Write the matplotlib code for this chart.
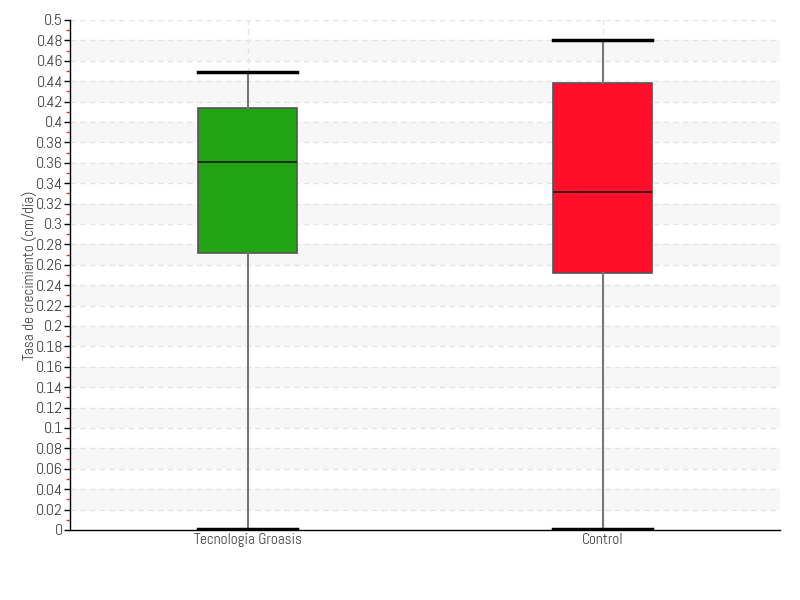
import numpy as np
import matplotlib.pyplot as plt

# box statistics
labels = ['Tecnología Groasis', 'Control']
whislo = [0.001, 0.001]
q1 = [0.2715, 0.252]
med = [0.3605, 0.331]
q3 = [0.4135, 0.438]
whishi = [0.449, 0.480]
colors = ['#22a311', '#ff0e29']

plt.rcParams['font.family'] = ['Abel', 'DejaVu Sans']

fig = plt.figure(figsize=(8, 6), dpi=100)
ax = fig.add_axes([0.0875, 0.1167, 0.8875, 0.85])

# alternating bands and dashed grid
for y in np.arange(0.02, 0.5, 0.04):
    ax.axhspan(y, y + 0.02, color='#f7f7f7', zorder=0, lw=0)
for y in np.arange(0.02, 0.501, 0.02):
    ax.axhline(y, color='#e4e4e4', ls=(0, (4, 3)), lw=1, zorder=0.5)

stats = []
for i in range(len(labels)):
    stats.append(dict(label=labels[i], whislo=whislo[i], q1=q1[i], med=med[i],
                      q3=q3[i], whishi=whishi[i], fliers=[]))

pos = [0.5, 1.5]
for p in pos:
    ax.axvline(p, color='#e4e4e4', ls=(0, (4, 3)), lw=1, zorder=0.5)

bp = ax.bxp(stats, positions=pos, widths=0.28, patch_artist=True,
            showfliers=False,
            boxprops=dict(edgecolor='#555555', lw=1.2),
            medianprops=dict(color='#1a1a1a', lw=1.2),
            whiskerprops=dict(color='#777777', lw=1.5),
            capprops=dict(color='black', lw=2.5), capwidths=0.28,
            zorder=3)
for patch, c in zip(bp['boxes'], colors):
    patch.set_facecolor(c)

ax.set_xlim(0, 2)
ax.set_ylim(0, 0.5)
yt = np.round(np.arange(0, 0.501, 0.02), 2)
ax.set_yticks(yt)
ax.set_yticklabels(['0' if v == 0 else ('%g' % v) for v in yt])
ax.set_yticks(np.arange(0.01, 0.5, 0.02), minor=True)
ax.tick_params(axis='y', which='major', length=4, width=1, color='black',
               labelsize=11.5, labelcolor='#444444', pad=1)
ax.tick_params(axis='y', which='minor', length=3, width=1, color='#ff3333')
ax.tick_params(axis='x', length=0, labelsize=11, labelcolor='#444444', pad=2)

for s in ['top', 'right']:
    ax.spines[s].set_visible(False)
ax.spines['left'].set_linewidth(1)
ax.spines['bottom'].set_linewidth(1)

ax.set_ylabel('Tasa de crecimiento (cm/día)', fontsize=11, color='#444444')
ax.yaxis.set_label_coords(-0.047, 0.5)

fig.savefig('out.png', dpi=100)
